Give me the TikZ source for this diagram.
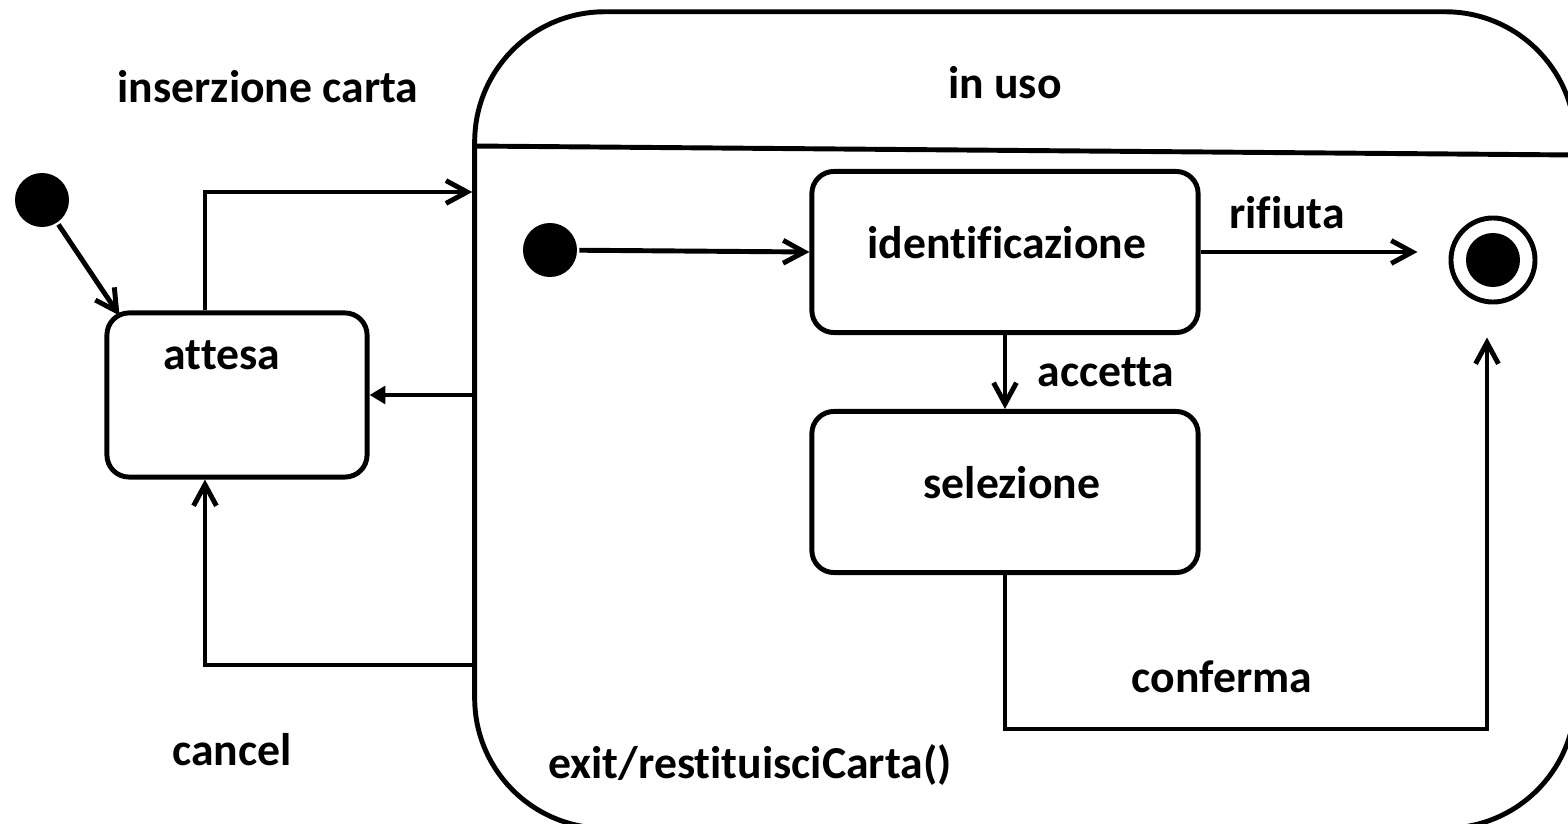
\documentclass[tikz,border=0pt]{standalone}
\usepackage{fontspec}
\setmainfont{Carlito}[Ligatures=NoCommon]
\usetikzlibrary{arrows.meta}
\tikzset{
  every picture/.style={line width=1.4pt},
  stato/.style={draw, rounded corners=0.22cm, minimum width=3.86cm, minimum height=1.61cm, inner sep=0},
  iniz/.style={circle, fill=black, minimum size=0.54cm, inner sep=0},
  lbl/.style={font=\fontsize{13}{15}\selectfont\bfseries, inner sep=0},
  arr/.style={-{Straight Barb[length=6pt,width=6.5pt]}},
  arrf/.style={-{Triangle[length=4.5pt,width=5pt]}}
}
\begin{document}
\begin{tikzpicture}[x=0.01cm, y=-0.01cm]
\useasboundingbox (0,0) rectangle (1568,824);
\clip (0,0) rectangle (1568,824);
\node[draw, rounded corners=1.3cm, minimum width=11cm, minimum height=8.16cm, inner sep=0] (inuso) at (1025,420) {};
\draw (inuso.west |- 0,146) -- (1575,155);
\node[lbl] (inuso-t) at (1005,83) {in uso};
\node[iniz] (init0) at (42,200) {};
\node[stato, minimum width=2.6cm, minimum height=1.64cm] (attesa) at (237,395) {};
\node[lbl] (attesa-t) at (222,355) {attesa};
\node[iniz] (init1) at (550,250) {};
\node[stato] (ident) at (1005,252) {};
\node[lbl] (ident-t) at (1007,243) {identificazione};
\node[stato] (sel) at (1005,492) {};
\node[lbl] (sel-t) at (1012,483) {selezione};
\node[circle, draw, minimum size=0.84cm, inner sep=0] (fin) at (1493,260) {};
\node[iniz] (fin-in) at (fin) {};
\draw[arr] (init0) -- ([xshift=0.15cm, yshift=-0.05cm]attesa.north west);
\draw[arr] ([xshift=-0.32cm]attesa.north) |- (inuso.west |- 0,192);
\draw[arrf] (inuso.west |- attesa.east) -- (attesa.east);
\draw[arr] (inuso.west |- 0,665) -| ([xshift=-0.32cm]attesa.south);
\draw[arr] (init1) -- (ident.west);
\draw[arr] (ident.south) -- (sel.north);
\draw[arr, shorten >=0.31cm] (ident.east) -- (ident.east -| fin.west);
\draw[arr, shorten >=0.33cm] (sel.south) -- ++(0,154) -| ([xshift=-0.06cm]fin.south);
\node[lbl] (l-ins) at (268,87) {inserzione carta};
\node[lbl] (l-canc) at (232,750) {cancel};
\node[lbl] (l-rif) at (1287,213) {rifiuta};
\node[lbl] (l-acc) at (1106,372) {accetta};
\node[lbl] (l-conf) at (1222,677) {conferma};
\node[lbl] (l-exit) at (750,765) {exit/restituisciCarta()};
\end{tikzpicture}
\end{document}
